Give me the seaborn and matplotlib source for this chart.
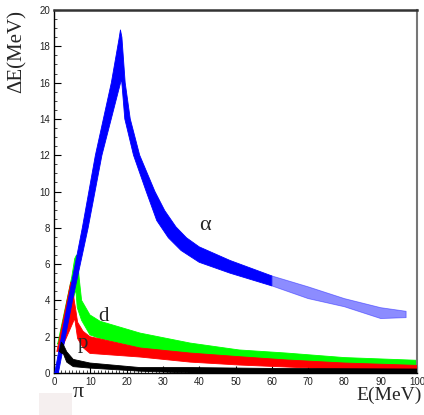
"""
Delta E - E identification plot (pi, p, d, alpha bands)
"""

import numpy as np
import matplotlib
matplotlib.use("Agg")
import matplotlib.pyplot as plt
from matplotlib.patches import Rectangle
from matplotlib.ticker import MultipleLocator
import seaborn as sns

# ---- band outlines (E in MeV, dE in MeV) ----
# alpha: dense part (punch-through line + falling branch up to 60 MeV)
alpha_E = [0.2, 3.9, 7.8, 11.4, 15.8, 17.9, 18.3,
           18.7, 19.6, 21.0, 23.6, 27.8, 30.5, 33.6, 36.5, 40.0, 48.5, 60.0,
           60.0, 48.5, 40.0, 35.0, 31.5, 28.3, 25.4, 21.9, 19.5, 18.6,
           13.2, 9.4, 5.1, 1.2]
alpha_dE = [0.0, 4.0, 8.0, 12.0, 16.0, 18.4, 18.9,
            18.5, 16.0, 14.0, 12.0, 10.0, 8.95, 8.05, 7.45, 6.95, 6.2, 5.35,
            4.8, 5.5, 6.1, 6.75, 7.45, 8.4, 10.0, 12.0, 14.0, 16.2,
            12.0, 8.0, 4.0, 0.0]

# alpha: sparse tail
alpha_tail_E = [60.0, 70.0, 80.0, 90.0, 97.0, 97.0, 90.0, 80.0, 70.0, 60.0]
alpha_tail_dE = [5.35, 4.75, 4.1, 3.6, 3.4, 3.05, 3.0, 3.65, 4.1, 4.8]

# deuteron
d_E = [1.0, 4.9, 5.7, 6.2,
       6.6, 7.0, 7.6, 9.9, 12.7, 23.7, 37.5, 51.0, 64.0, 80.0, 100.0,
       100.0, 80.0, 64.0, 51.0, 37.5, 23.7, 12.7, 9.9, 7.6, 6.4, 6.0,
       2.0]
d_dE = [1.6, 5.3, 6.3, 6.5,
        6.0, 5.1, 4.0, 3.2, 2.85, 2.2, 1.65, 1.27, 1.1, 0.85, 0.7,
        0.38, 0.45, 0.6, 0.83, 1.0, 1.38, 1.9, 2.1, 2.9, 3.6, 4.6,
        1.6]

# proton
p_E = [0.8, 4.6, 5.0,
       5.6, 5.9, 6.5, 8.0, 9.9, 23.7, 37.5, 51.0, 64.0, 80.0, 100.0,
       100.0, 80.0, 64.0, 51.0, 37.5, 23.7, 9.9, 8.0, 6.5, 5.7,
       1.8]
p_dE = [1.2, 5.0, 4.9,
        3.95, 3.6, 2.8, 2.3, 2.0, 1.38, 1.1, 0.9, 0.72, 0.55, 0.42,
        0.12, 0.2, 0.33, 0.44, 0.6, 0.88, 1.08, 1.4, 1.9, 3.0,
        1.2]

# pion
pi_E = [1.5, 2.0, 2.6, 3.5, 5.3, 9.9, 23.7, 37.5, 60.0, 100.0,
        100.0, 37.5, 23.7, 9.9, 5.3, 3.5, 2.6, 2.0]
pi_dE = [1.2, 1.7, 1.55, 1.17, 0.75, 0.55, 0.3, 0.3, 0.25, 0.22,
         0.0, 0.0, 0.1, 0.27, 0.35, 0.6, 1.05, 1.1]

x_ticks = list(range(0, 101, 10))
y_ticks = list(range(0, 21, 2))

sns.set_style("ticks")
plt.rcParams["font.family"] = ["Liberation Sans", "DejaVu Sans"]

fig = plt.figure(figsize=(4.24, 4.15), dpi=100)
ax = fig.add_axes([0.1274, 0.1012, 0.8561, 0.8747])


def draw_band(xs, ys, color, alpha=1.0, z=2):
    ax.fill(xs, ys, color=color, alpha=alpha, lw=0, zorder=z)
    sns.lineplot(x=xs + xs[:1], y=ys + ys[:1], sort=False, estimator=None,
                 ax=ax, color=color, alpha=alpha, lw=0.6, zorder=z)


draw_band(d_E, d_dE, "#00ff00", z=2)
draw_band(p_E, p_dE, "#ff0000", z=3)
draw_band(alpha_E, alpha_dE, "#0000ff", z=4)
draw_band(alpha_tail_E, alpha_tail_dE, "#1a1aff", alpha=0.5, z=4)
draw_band(pi_E, pi_dE, "black", z=5)

ax.set_xlim(0, 100)
ax.set_ylim(0, 20)
ax.set_xticks(x_ticks)
ax.set_yticks(y_ticks)
ax.xaxis.set_minor_locator(MultipleLocator(1))
ax.yaxis.set_minor_locator(MultipleLocator(0.5))
ax.tick_params(which="major", direction="in", length=5, width=0.8,
               labelsize=7, pad=3, colors="black", labelcolor="#222222")
ax.tick_params(which="minor", direction="in", length=2.5, width=0.6)

for side in ["left", "bottom"]:
    ax.spines[side].set_color("black")
    ax.spines[side].set_linewidth(1.0)
ax.spines["top"].set_color("#333333")
ax.spines["top"].set_linewidth(1.8)
ax.spines["right"].set_color("#777777")
ax.spines["right"].set_linewidth(1.5)

serif = ["Liberation Serif", "DejaVu Serif"]
ax.set_ylabel("ΔE(MeV)", fontsize=15, family=serif)
ax.yaxis.set_label_coords(-0.074, 0.887)
ax.set_xlabel("E(MeV)", fontsize=14, family=serif)
ax.xaxis.set_label_coords(0.923, -0.038)

ax.text(41.6, 8.15, "α", fontsize=16, family=serif, ha="center", va="center")
ax.text(13.5, 3.1, "d", fontsize=15, family=serif, ha="center", va="center", zorder=6)
ax.text(7.9, 1.6, "p", fontsize=15, family=serif, ha="center", va="center", zorder=6)
ax.text(6.6, -1.05, "π", fontsize=16, family=serif, ha="center", va="center",
        clip_on=False)

fig.patches.append(Rectangle((0.092, 0.0), 0.078, 0.053, transform=fig.transFigure,
                             facecolor="#f5efef", edgecolor="none"))

fig.savefig("out.png", dpi=100)
